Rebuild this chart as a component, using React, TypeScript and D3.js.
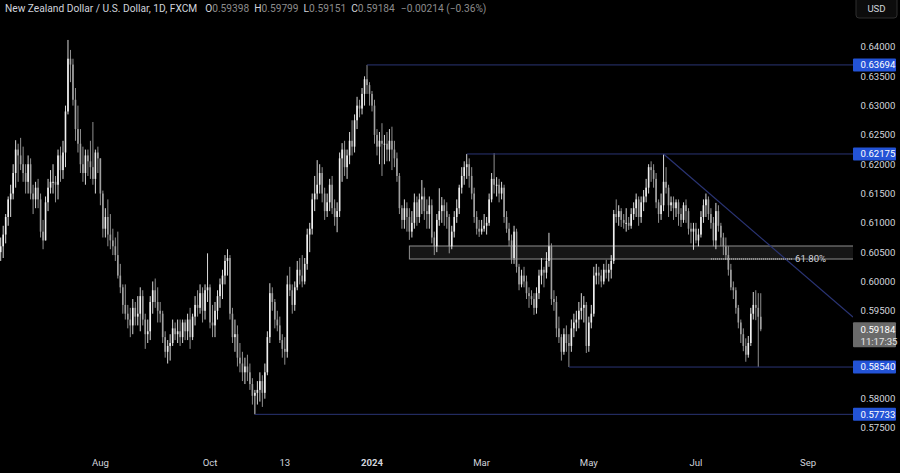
import React from "react";
import * as d3 from "d3";

// ---------- DATA ----------
const START_DATE = "2023-06-06"; // first daily bar (weekdays only)
const firstOpen = 0.605;

const highs = [
  0.6075, 0.6095, 0.6115, 0.6145, 0.6165, 0.62, 0.6241, 0.6235, 0.6245, 0.623,
  0.62, 0.6215, 0.621, 0.6165, 0.617, 0.6175, 0.615, 0.6105, 0.6145, 0.6175,
  0.619, 0.62, 0.618, 0.6225, 0.623, 0.624, 0.63, 0.6412, 0.6395, 0.638,
  0.633, 0.63, 0.626, 0.623, 0.6225, 0.6225, 0.624, 0.6272, 0.6225, 0.623,
  0.621, 0.6155, 0.6125, 0.614, 0.6115, 0.609, 0.6075, 0.6085, 0.603, 0.5995,
  0.5995, 0.596, 0.5955, 0.597, 0.5965, 0.5975, 0.599, 0.5985, 0.5945, 0.5935,
  0.5975, 0.6, 0.6005, 0.599, 0.5965, 0.595, 0.5915, 0.59, 0.591, 0.5935,
  0.593, 0.5935, 0.5935, 0.5935, 0.5935, 0.5945, 0.5955, 0.5945, 0.5975, 0.5985,
  0.5995, 0.599, 0.5995, 0.6048, 0.5995, 0.596, 0.5965, 0.5985, 0.6005, 0.602,
  0.6045, 0.6055, 0.6045, 0.5955, 0.5935, 0.5925, 0.5895, 0.588, 0.587, 0.5875,
  0.586, 0.5835, 0.5815, 0.583, 0.5845, 0.584, 0.586, 0.5915, 0.5997, 0.599,
  0.597, 0.595, 0.594, 0.591, 0.5905, 0.601, 0.6025, 0.5995, 0.6, 0.6035,
  0.604, 0.6045, 0.604, 0.609, 0.61, 0.615, 0.618, 0.6207, 0.62, 0.6195,
  0.616, 0.615, 0.6175, 0.618, 0.614, 0.6135, 0.622, 0.6236, 0.624, 0.6225,
  0.6255, 0.6275, 0.6285, 0.6315, 0.631, 0.633, 0.635, 0.63694, 0.634, 0.6325,
  0.631, 0.626, 0.6255, 0.627, 0.625, 0.6255, 0.626, 0.6264, 0.624, 0.622,
  0.6185, 0.613, 0.614, 0.6135, 0.6125, 0.612, 0.615, 0.6145, 0.615, 0.6173,
  0.616, 0.614, 0.6145, 0.614, 0.6085, 0.6115, 0.6159, 0.6144, 0.614, 0.6135,
  0.6115, 0.6095, 0.612, 0.614, 0.6165, 0.6195, 0.6205, 0.62175, 0.621, 0.6195,
  0.616, 0.612, 0.6105, 0.6105, 0.6115, 0.611, 0.615, 0.6185, 0.6219, 0.6178,
  0.6175, 0.617, 0.6165, 0.612, 0.61, 0.608, 0.6095, 0.609, 0.603, 0.602,
  0.6025, 0.601, 0.599, 0.5985, 0.598, 0.599, 0.602, 0.604, 0.6025, 0.605,
  0.6083, 0.6065, 0.5985, 0.5975, 0.594, 0.591, 0.592, 0.5925, 0.591, 0.5935,
  0.5945, 0.595, 0.5965, 0.598, 0.5975, 0.5965, 0.594, 0.596, 0.6025, 0.603,
  0.6025, 0.602, 0.603, 0.6037, 0.603, 0.6045, 0.6122, 0.614, 0.613, 0.6125,
  0.6115, 0.6125, 0.611, 0.6125, 0.6135, 0.615, 0.6145, 0.6145, 0.6156, 0.6175,
  0.62, 0.6205, 0.62, 0.6185, 0.614, 0.615, 0.62175, 0.6195, 0.6165, 0.6145,
  0.6145, 0.614, 0.614, 0.6125, 0.6135, 0.614, 0.6125, 0.61, 0.61, 0.61,
  0.609, 0.612, 0.614, 0.615, 0.6145, 0.6125, 0.611, 0.6134, 0.613, 0.61,
  0.6083, 0.6075, 0.606, 0.603, 0.6, 0.599, 0.596, 0.5935, 0.592, 0.5903,
  0.5907, 0.5955, 0.5982, 0.5985, 0.598, 0.59799,
];

const lows = [
  0.6035, 0.604, 0.6065, 0.6095, 0.611, 0.614, 0.616, 0.617, 0.619, 0.617,
  0.615, 0.615, 0.614, 0.6115, 0.6125, 0.6125, 0.6075, 0.6055, 0.607, 0.612,
  0.615, 0.615, 0.6135, 0.614, 0.617, 0.6175, 0.6195, 0.6285, 0.634, 0.63,
  0.624, 0.622, 0.6185, 0.617, 0.6165, 0.618, 0.6175, 0.6165, 0.615, 0.6185,
  0.613, 0.6075, 0.6075, 0.606, 0.6055, 0.6045, 0.6035, 0.6005, 0.598, 0.5945,
  0.5935, 0.592, 0.5905, 0.591, 0.5925, 0.5925, 0.5915, 0.5925, 0.5885, 0.5895,
  0.59, 0.5945, 0.5955, 0.593, 0.593, 0.5895, 0.587, 0.586, 0.5865, 0.589,
  0.59, 0.5895, 0.589, 0.5895, 0.59, 0.59, 0.5885, 0.59, 0.5925, 0.594,
  0.5945, 0.593, 0.5935, 0.5965, 0.592, 0.5905, 0.5905, 0.5935, 0.5955, 0.597,
  0.5995, 0.601, 0.5935, 0.5895, 0.588, 0.5855, 0.5845, 0.583, 0.5825, 0.583,
  0.5815, 0.579, 0.57733, 0.579, 0.5795, 0.5786, 0.58, 0.584, 0.5895, 0.595,
  0.592, 0.5915, 0.5895, 0.587, 0.5858, 0.587, 0.5975, 0.5945, 0.595, 0.5985,
  0.5995, 0.599, 0.5995, 0.602, 0.605, 0.608, 0.612, 0.614, 0.615, 0.6135,
  0.6105, 0.611, 0.612, 0.6115, 0.6095, 0.6084, 0.611, 0.617, 0.618, 0.6175,
  0.62, 0.6215, 0.622, 0.626, 0.628, 0.6285, 0.63, 0.632, 0.63, 0.629,
  0.6235, 0.6215, 0.62, 0.618, 0.62, 0.6205, 0.6205, 0.619, 0.6195, 0.617,
  0.6115, 0.609, 0.609, 0.6085, 0.6071, 0.6075, 0.609, 0.6095, 0.61, 0.6115,
  0.6105, 0.609, 0.609, 0.6065, 0.6045, 0.605, 0.6095, 0.61, 0.6095, 0.609,
  0.6048, 0.6055, 0.6075, 0.61, 0.6115, 0.615, 0.6165, 0.6175, 0.616, 0.614,
  0.61, 0.608, 0.6076, 0.608, 0.6085, 0.608, 0.6095, 0.6135, 0.615, 0.6145,
  0.6135, 0.614, 0.61, 0.6083, 0.606, 0.603, 0.603, 0.6015, 0.5985, 0.599,
  0.599, 0.597, 0.5955, 0.596, 0.5943, 0.5945, 0.597, 0.5995, 0.599, 0.6005,
  0.6025, 0.596, 0.595, 0.5905, 0.5895, 0.5865, 0.5875, 0.588, 0.5854, 0.588,
  0.5905, 0.5915, 0.592, 0.5935, 0.593, 0.5878, 0.588, 0.592, 0.594, 0.5995,
  0.5995, 0.599, 0.5995, 0.6005, 0.6, 0.6005, 0.603, 0.61, 0.6095, 0.6093,
  0.609, 0.6085, 0.6088, 0.609, 0.6105, 0.611, 0.6095, 0.61, 0.612, 0.6135,
  0.615, 0.617, 0.616, 0.6125, 0.61, 0.6105, 0.612, 0.615, 0.611, 0.612,
  0.6105, 0.611, 0.6095, 0.6093, 0.61, 0.61, 0.608, 0.6065, 0.6054, 0.6065,
  0.606, 0.6075, 0.61, 0.611, 0.6105, 0.609, 0.606, 0.6055, 0.6085, 0.606,
  0.6045, 0.6037, 0.601, 0.5985, 0.597, 0.5945, 0.592, 0.5895, 0.5881, 0.5863,
  0.587, 0.589, 0.5935, 0.5934, 0.5854, 0.59151,
];

const closes = [
  0.606, 0.608, 0.611, 0.614, 0.615, 0.6185, 0.6225, 0.6215, 0.62, 0.6185,
  0.617, 0.62, 0.615, 0.614, 0.616, 0.614, 0.6085, 0.607, 0.6135, 0.616,
  0.617, 0.617, 0.6165, 0.6215, 0.619, 0.622, 0.629, 0.638, 0.637, 0.631,
  0.626, 0.6235, 0.62, 0.6185, 0.6215, 0.6205, 0.6195, 0.6175, 0.622, 0.621,
  0.615, 0.609, 0.611, 0.608, 0.607, 0.606, 0.6045, 0.601, 0.599, 0.596,
  0.5945, 0.5935, 0.5925, 0.5955, 0.594, 0.5945, 0.5975, 0.5935, 0.591, 0.5915,
  0.5965, 0.5985, 0.5965, 0.595, 0.5945, 0.5905, 0.588, 0.589, 0.5895, 0.592,
  0.591, 0.5915, 0.5905, 0.593, 0.5915, 0.5935, 0.5905, 0.594, 0.596, 0.5955,
  0.598, 0.595, 0.5985, 0.599, 0.593, 0.5925, 0.595, 0.5975, 0.5995, 0.601,
  0.6035, 0.604, 0.5945, 0.5905, 0.591, 0.587, 0.586, 0.5845, 0.5855, 0.5845,
  0.5825, 0.5805, 0.581, 0.5815, 0.583, 0.581, 0.5845, 0.5905, 0.598, 0.5965,
  0.5935, 0.5925, 0.59, 0.5885, 0.588, 0.5995, 0.5985, 0.596, 0.599, 0.602,
  0.601, 0.6, 0.603, 0.608, 0.609, 0.614, 0.615, 0.6165, 0.6185, 0.615,
  0.612, 0.6135, 0.6165, 0.6125, 0.611, 0.612, 0.621, 0.6225, 0.6195, 0.6215,
  0.624, 0.623, 0.6275, 0.63, 0.6295, 0.632, 0.6345, 0.6335, 0.632, 0.63,
  0.625, 0.623, 0.624, 0.6235, 0.6235, 0.6225, 0.624, 0.6225, 0.621, 0.618,
  0.6125, 0.6105, 0.6125, 0.611, 0.6085, 0.61, 0.6135, 0.611, 0.614, 0.6145,
  0.612, 0.6115, 0.613, 0.6075, 0.606, 0.6105, 0.612, 0.613, 0.612, 0.611,
  0.606, 0.6085, 0.611, 0.6125, 0.616, 0.618, 0.6195, 0.62, 0.618, 0.615,
  0.611, 0.609, 0.6085, 0.609, 0.6095, 0.61, 0.614, 0.6175, 0.6165, 0.6165,
  0.615, 0.616, 0.611, 0.609, 0.607, 0.604, 0.6085, 0.6025, 0.5995, 0.601,
  0.6, 0.598, 0.5975, 0.597, 0.5955, 0.598, 0.601, 0.602, 0.6015, 0.6035,
  0.606, 0.597, 0.5965, 0.592, 0.5905, 0.588, 0.591, 0.5895, 0.589, 0.592,
  0.593, 0.5935, 0.595, 0.5955, 0.596, 0.589, 0.593, 0.5945, 0.601, 0.6015,
  0.601, 0.6, 0.602, 0.6015, 0.602, 0.6035, 0.6115, 0.611, 0.612, 0.6105,
  0.61, 0.61, 0.6095, 0.6115, 0.6125, 0.614, 0.611, 0.6135, 0.6145, 0.616,
  0.6195, 0.619, 0.6175, 0.6135, 0.6115, 0.613, 0.617, 0.616, 0.613, 0.6135,
  0.6125, 0.6135, 0.6115, 0.6105, 0.613, 0.612, 0.609, 0.6085, 0.609, 0.607,
  0.608, 0.611, 0.613, 0.614, 0.6115, 0.61, 0.607, 0.612, 0.6095, 0.6075,
  0.606, 0.6045, 0.602, 0.599, 0.5985, 0.5955, 0.593, 0.591, 0.589, 0.5875,
  0.5895, 0.5945, 0.596, 0.5955, 0.59398, 0.59184,
];

// axis ticks shown by the reference (0.585 / 0.590 are hidden behind labels there)
const priceTicks = [0.575, 0.58, 0.595, 0.6, 0.605, 0.61, 0.615, 0.62, 0.625, 0.63, 0.635, 0.64];
const timeTickDates = ["2023-08-01", "2023-10-02", "2023-11-13", "2024-01-01", "2024-03-01", "2024-05-01", "2024-07-01", "2024-09-02"];
const timeTickLabels = ["Aug", "Oct", "13", "2024", "Mar", "May", "Jul", "Sep"];

const levelPrices = [0.63694, 0.62175, 0.5854, 0.57733];
const levelStartDates = ["2023-12-28", "2024-02-22", "2024-04-19", "2023-10-26"];

const zoneTop = 0.60605;
const zoneBottom = 0.60383;
const zoneStartDate = "2024-01-22";
const fibStartDate = "2024-07-09";
const fibEndDate = "2024-10-09";
const fibLabel = "61.80%";

const trendStartDate = "2024-06-12";
const trendStartPrice = 0.62175;
const trendPoint2Date = "2024-08-14";
const trendPoint2Price = 0.60527;

const header = {
  title: "New Zealand Dollar / U.S. Dollar, 1D, FXCM",
  o: "0.59398", h: "0.59799", l: "0.59151", c: "0.59184",
  change: "\u22120.00214 (\u22120.36%)",
};
const lastPrice = 0.59184;
const countdownText = "11:17:35";
const currencyText = "USD";

// ---------- HELPERS ----------
function wdIndex(s: string): number {
  const start = new Date(START_DATE + "T00:00:00Z");
  const d = new Date(s + "T00:00:00Z");
  let n = 0;
  const t = new Date(start);
  while (t < d) {
    const w = t.getUTCDay();
    if (w !== 0 && w !== 6) n++;
    t.setUTCDate(t.getUTCDate() + 1);
  }
  return n;
}

const W = 900;
const H = 473;
const PLOT_RIGHT = 853;
const FONT = "Roboto, 'Noto Sans', sans-serif";

export default function App() {
  const x = d3.scaleLinear().domain([0, 324]).range([0.7, 0.7 + 324 * 2.492]);
  const y = d3.scaleLinear().domain([0.575, 0.64]).range([428, 47]);

  const candles = closes.map((c, i) => ({
    o: i === 0 ? firstOpen : closes[i - 1],
    h: highs[i],
    l: lows[i],
    c,
    i,
  }));

  const bodyW = 1.6;
  const upCol = "#f0f0f0";
  const downCol = "#a0a0a0";
  const lineCol = "#2a3474";

  const zoneX = x(wdIndex(zoneStartDate));
  const t1i = wdIndex(trendStartDate);
  const t2i = wdIndex(trendPoint2Date);
  const slope = (trendPoint2Price - trendStartPrice) / (t2i - t1i);
  const trendEndIdx = x.invert(PLOT_RIGHT);
  const trendEndPrice = trendStartPrice + slope * (trendEndIdx - t1i);

  const fibY = y(zoneBottom);
  const fibX1 = x(wdIndex(fibStartDate));
  const fibX2 = Math.min(x(wdIndex(fibEndDate)), 792);

  const fmt = d3.format(".5f");

  const labelBox = (p: number, key: string) => (
    <g key={key}>
      <rect x={853} y={y(p) - 6.5} width={43} height={13} fill="#2353d6" rx={1} />
      <text x={860.5} y={y(p)} dy="0.35em" fill="#ffffff" fontSize={9.6} fontFamily={FONT}>
        {fmt(p)}
      </text>
    </g>
  );

  return (
    <svg width={W} height={H} style={{ position: "fixed", left: 0, top: 0, background: "#000000" }}>
      <rect x={0} y={0} width={W} height={H} fill="#000000" />
      <defs>
        <clipPath id="plot">
          <rect x={0} y={0} width={PLOT_RIGHT} height={H} />
        </clipPath>
      </defs>

      <g clipPath="url(#plot)">
        <rect
          x={zoneX}
          y={y(zoneTop)}
          width={PLOT_RIGHT + 2 - zoneX}
          height={y(zoneBottom) - y(zoneTop)}
          fill="#161616"
          stroke="#8f8f8f"
          strokeWidth={1}
        />
        {candles.map((d) => {
          const cx = x(d.i);
          const up = d.c >= d.o;
          const col = up ? upCol : downCol;
          const top = y(Math.max(d.o, d.c));
          const bot = y(Math.min(d.o, d.c));
          return (
            <g key={d.i}>
              <line x1={cx} x2={cx} y1={y(d.h)} y2={y(d.l)} stroke={col} strokeWidth={0.9} />
              <rect x={cx - bodyW / 2} y={top} width={bodyW} height={Math.max(1, bot - top)} fill={col} />
            </g>
          );
        })}
        {levelPrices.map((p, k) => (
          <line
            key={"lv" + k}
            x1={x(wdIndex(levelStartDates[k]))}
            x2={PLOT_RIGHT}
            y1={y(p)}
            y2={y(p)}
            stroke={lineCol}
            strokeWidth={1}
          />
        ))}
        <line
          x1={x(t1i)}
          y1={y(trendStartPrice)}
          x2={PLOT_RIGHT}
          y2={y(trendEndPrice)}
          stroke={lineCol}
          strokeWidth={1.2}
        />
        <line x1={fibX1} x2={fibX2} y1={fibY} y2={fibY} stroke="#d8d8d8" strokeWidth={1} strokeDasharray="1,1" />
        <text x={795} y={fibY} dy="0.35em" fill="#d1d4dc" fontSize={9.6} fontFamily={FONT}>
          {fibLabel}
        </text>
      </g>

      {priceTicks.map((p) => (
        <text key={p} x={860.5} y={y(p)} dy="0.35em" fill="#d1d4dc" fontSize={9.6} fontFamily={FONT}>
          {fmt(p)}
        </text>
      ))}

      {levelPrices.map((p, k) => labelBox(p, "lb" + k))}

      <rect x={853} y={y(lastPrice) - 7} width={43} height={25} fill="#6a6a6a" rx={1} />
      <text x={860.5} y={y(lastPrice)} dy="0.35em" fill="#ffffff" fontSize={9.6} fontFamily={FONT}>
        {fmt(lastPrice)}
      </text>
      <text x={860.5} y={y(lastPrice) + 12} dy="0.35em" fill="#e6e6e6" fontSize={9.6} fontFamily={FONT}>
        {countdownText}
      </text>

      <rect x={856} y={-3} width={41} height={21} rx={3} fill="#0c0c0c" stroke="#2e2e2e" />
      <text x={876.5} y={9} dy="0.35em" textAnchor="middle" fill="#d1d4dc" fontSize={9.6} fontFamily={FONT}>
        {currencyText}
      </text>

      {timeTickDates.map((d, k) => (
        <text
          key={d}
          x={x(wdIndex(d))}
          y={463}
          dy="0.35em"
          textAnchor="middle"
          fill="#d1d4dc"
          fontSize={9.6}
          fontWeight={timeTickLabels[k] === "2024" ? "bold" : "normal"}
          fontFamily={FONT}
        >
          {timeTickLabels[k]}
        </text>
      ))}

      <text x={5} y={8} dy="0.35em" fontSize={10.2} fontFamily={FONT} fill="#d1d4dc">
        <tspan>{header.title}</tspan>
        <tspan dx={8}>O</tspan>
        <tspan fill="#8c8c8c">{header.o}</tspan>
        <tspan dx={5}>H</tspan>
        <tspan fill="#8c8c8c">{header.h}</tspan>
        <tspan dx={5}>L</tspan>
        <tspan fill="#8c8c8c">{header.l}</tspan>
        <tspan dx={5}>C</tspan>
        <tspan fill="#8c8c8c">{header.c}</tspan>
        <tspan dx={6} fill="#8c8c8c">{header.change}</tspan>
      </text>
    </svg>
  );
}
